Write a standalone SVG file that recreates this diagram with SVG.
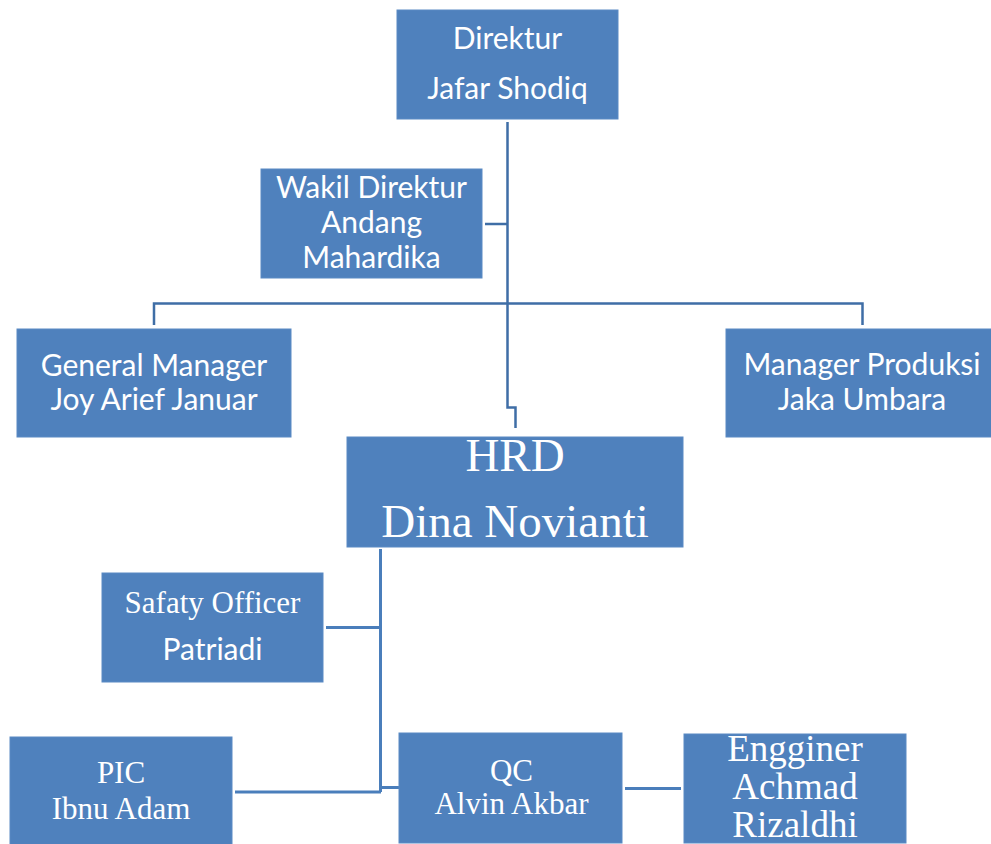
<svg xmlns="http://www.w3.org/2000/svg" width="991" height="844" viewBox="0 0 991 844">
<style>
.box{fill:#4f81bd;stroke:#5a8ac4;stroke-width:1}
.s{font-family:Lato,"Liberation Sans",sans-serif;font-size:30px;fill:#ffffff;text-anchor:middle}
.r{font-family:"Liberation Serif","Times New Roman",serif;fill:#ffffff;text-anchor:middle}
.c1{fill:none;stroke:#3f6ea6;stroke-width:2.5}
.c2{fill:none;stroke:#4a7ebb;stroke-width:3}
</style>
<rect width="991" height="844" fill="#ffffff"/>
<g id="connectors">
<path class="c1" d="M507.5,122 V407.5 H515.5 V428"/>
<path class="c1" d="M485,224 H507.5"/>
<path class="c1" d="M154,325 V303.5 H862.5 V325"/>
<path class="c2" d="M380.5,549 V792"/>
<path class="c2" d="M326,627.5 H380.5"/>
<path class="c2" d="M235,792 H381"/>
<path class="c2" d="M381,787.5 H399"/>
<path class="c2" d="M625,788.5 H681"/>
</g>
<g id="direktur">
<rect class="box" x="397" y="10" width="221" height="109"/>
<text class="s" x="507.5" y="49" font-size="27.5">Direktur</text>
<text class="s" x="507.5" y="99" font-size="27.5">Jafar Shodiq</text>
</g>
<g id="wakil">
<rect class="box" x="261" y="169" width="221" height="109"/>
<text class="s" x="371.5" y="198" font-size="28.2">Wakil Direktur</text>
<text class="s" x="371.5" y="233" font-size="28.2">Andang</text>
<text class="s" x="371.5" y="268" font-size="28.2">Mahardika</text>
</g>
<g id="gm">
<rect class="box" x="17" y="329" width="274" height="108"/>
<text class="s" x="154" y="376">General Manager</text>
<text class="s" x="154" y="410">Joy Arief Januar</text>
</g>
<g id="mp">
<rect class="box" x="726" y="329" width="272" height="108"/>
<text class="s" x="862" y="375">Manager Produksi</text>
<text class="s" x="862" y="410">Jaka Umbara</text>
</g>
<g id="hrd">
<rect class="box" x="347" y="437" width="336" height="110"/>
<text class="r" x="515" y="471" font-size="47">HRD</text>
<text class="r" x="515" y="537" font-size="47">Dina Novianti</text>
</g>
<g id="safety">
<rect class="box" x="102" y="573" width="221" height="109"/>
<text class="r" x="212.5" y="613" font-size="31">Safaty Officer</text>
<text class="s" x="212.5" y="660">Patriadi</text>
</g>
<g id="pic">
<rect class="box" x="10" y="737" width="222" height="110"/>
<text class="r" x="121" y="783" font-size="31">PIC</text>
<text class="r" x="121" y="819" font-size="31">Ibnu Adam</text>
</g>
<g id="qc">
<rect class="box" x="399" y="733" width="223" height="110"/>
<text class="r" x="511.5" y="781" font-size="31">QC</text>
<text class="r" x="511.5" y="814" font-size="31">Alvin Akbar</text>
</g>
<g id="engineer">
<rect class="box" x="684" y="734" width="222" height="109"/>
<text class="r" x="795" y="761" font-size="37">Engginer</text>
<text class="r" x="795" y="799" font-size="37">Achmad</text>
<text class="r" x="795" y="837" font-size="37">Rizaldhi</text>
</g>
</svg>
